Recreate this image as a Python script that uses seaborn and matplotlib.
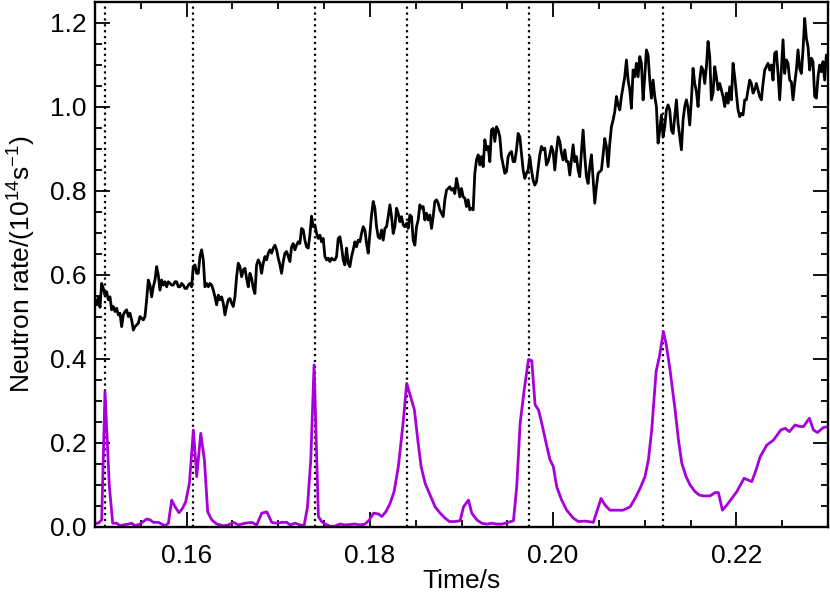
import numpy as np
import pandas as pd
import matplotlib
matplotlib.use('Agg')
import matplotlib.pyplot as plt
import seaborn as sns
from matplotlib.ticker import MultipleLocator, FormatStrFormatter

# total neutron rate (black), sampled on a uniform time grid from 0.150 s to 0.230 s
neutron_rate = [
    0.541, 0.529, 0.548, 0.523, 0.580, 0.568, 0.552, 0.560, 0.541, 0.548,
    0.517, 0.525, 0.513, 0.521, 0.505, 0.509, 0.477, 0.505, 0.513, 0.517,
    0.501, 0.509, 0.493, 0.469, 0.477, 0.481, 0.485, 0.501, 0.497, 0.493,
    0.501, 0.541, 0.588, 0.576, 0.548, 0.572, 0.588, 0.620, 0.600, 0.564,
    0.588, 0.576, 0.584, 0.572, 0.584, 0.580, 0.576, 0.576, 0.584, 0.584,
    0.572, 0.572, 0.580, 0.576, 0.568, 0.568, 0.576, 0.580, 0.572, 0.620,
    0.624, 0.604, 0.604, 0.644, 0.660, 0.636, 0.572, 0.580, 0.572, 0.580,
    0.576, 0.564, 0.548, 0.529, 0.552, 0.541, 0.548, 0.533, 0.505, 0.525,
    0.541, 0.544, 0.533, 0.525, 0.548, 0.596, 0.628, 0.620, 0.596, 0.612,
    0.616, 0.592, 0.572, 0.604, 0.592, 0.568, 0.556, 0.624, 0.636, 0.628,
    0.604, 0.628, 0.644, 0.636, 0.652, 0.660, 0.652, 0.664, 0.671, 0.660,
    0.640, 0.624, 0.604, 0.632, 0.652, 0.656, 0.644, 0.632, 0.667, 0.675,
    0.660, 0.671, 0.679, 0.675, 0.711, 0.707, 0.683, 0.667, 0.664, 0.695,
    0.740, 0.715, 0.719, 0.699, 0.687, 0.695, 0.679, 0.687, 0.644, 0.636,
    0.640, 0.632, 0.640, 0.636, 0.636, 0.644, 0.687, 0.691, 0.667, 0.636,
    0.624, 0.664, 0.628, 0.620, 0.644, 0.660, 0.679, 0.667, 0.683, 0.679,
    0.699, 0.715, 0.707, 0.675, 0.652, 0.699, 0.743, 0.775, 0.759, 0.715,
    0.691, 0.687, 0.707, 0.683, 0.711, 0.715, 0.739, 0.767, 0.739, 0.699,
    0.715, 0.759, 0.747, 0.727, 0.739, 0.719, 0.715, 0.723, 0.711, 0.743,
    0.739, 0.683, 0.671, 0.715, 0.731, 0.767, 0.759, 0.763, 0.731, 0.747,
    0.731, 0.743, 0.711, 0.739, 0.775, 0.779, 0.771, 0.755,
    0.747, 0.739, 0.779, 0.802, 0.806, 0.810, 0.802, 0.806, 0.794, 0.830,
    0.810, 0.786, 0.806, 0.786, 0.783, 0.763, 0.779, 0.755, 0.759, 0.755,
    0.842, 0.874, 0.886, 0.862, 0.882, 0.858, 0.922, 0.898, 0.906, 0.870,
    0.945, 0.949, 0.918, 0.953, 0.945, 0.929, 0.882, 0.862, 0.842, 0.846,
    0.882, 0.890, 0.894, 0.870, 0.870, 0.898, 0.937, 0.929, 0.890, 0.850,
    0.830, 0.842, 0.850, 0.882, 0.850, 0.826, 0.814, 0.822, 0.854, 0.886,
    0.906, 0.898, 0.902, 0.862, 0.870, 0.886, 0.906, 0.894, 0.850, 0.894,
    0.929, 0.918, 0.890, 0.874, 0.898, 0.870, 0.870, 0.838, 0.874, 0.910,
    0.870, 0.882, 0.850, 0.834, 0.894, 0.945, 0.882, 0.834, 0.818, 0.858,
    0.886, 0.830, 0.771, 0.810, 0.842, 0.846, 0.850, 0.886, 0.925, 0.906,
    0.858, 0.913, 0.953, 0.969, 0.989, 1.025, 1.005, 0.993,
    1.025, 1.048, 1.072, 1.112, 1.064, 1.041, 0.997, 1.088, 1.072, 1.104,
    1.072, 1.120, 1.104, 1.017, 1.072, 1.136, 1.124, 1.064, 1.021, 1.064,
    1.025, 1.001, 0.914, 0.945, 0.981, 0.929, 0.953, 0.993, 1.005, 0.993,
    0.945, 0.937, 0.977, 1.017, 0.961, 0.929, 0.898, 0.969, 1.001, 1.017,
    0.997, 0.957, 1.017, 1.092, 1.056, 1.037, 1.001, 1.064, 1.096, 1.088,
    1.056, 1.096, 1.156, 1.120, 1.017, 1.033, 1.096, 1.072, 1.041, 1.056,
    1.041, 1.025, 1.001, 1.033, 1.009, 1.048, 1.017, 1.104, 1.072, 1.033,
    0.993, 0.977, 0.985, 0.981, 1.017, 1.017, 1.041, 1.064, 1.056, 1.033,
    1.041, 1.056, 1.041, 1.025, 1.017, 1.056, 1.088, 1.096, 1.104, 1.088,
    1.100, 1.064, 1.128, 1.132, 1.080, 1.017, 1.088, 1.160, 1.080, 1.112,
    1.104, 1.064, 1.060, 1.017, 1.056, 1.088, 1.136, 1.092, 1.080, 1.136,
    1.211, 1.164, 1.144, 1.088, 1.116, 1.108, 1.025, 1.021, 1.072, 1.100,
    1.084, 1.108, 1.064, 1.124, 1.100,
]
t_start, t_end = 0.150, 0.230
time_black = np.linspace(t_start, t_end, len(neutron_rate))

# purple trace (burst signal)
time_purple = [
    0.15000, 0.15036, 0.15073, 0.15109, 0.15157, 0.15193, 0.15237, 0.15273, 0.15309, 0.15364,
    0.15400, 0.15437, 0.15491, 0.15528, 0.15564, 0.15601, 0.15637, 0.15692, 0.15728, 0.15764,
    0.15801, 0.15837, 0.15874, 0.15917, 0.15954, 0.15990, 0.16030, 0.16074, 0.16110, 0.16154,
    0.16194, 0.16230, 0.16274, 0.16329, 0.16401, 0.16456, 0.16511, 0.16565, 0.16638, 0.16711,
    0.16765, 0.16820, 0.16875, 0.16929, 0.16984, 0.17038, 0.17093, 0.17129, 0.17184, 0.17239,
    0.17282, 0.17319, 0.17355, 0.17391, 0.17438, 0.17474, 0.17511, 0.17565, 0.17620, 0.17674,
    0.17729, 0.17784, 0.17838, 0.17893, 0.17947, 0.17995, 0.18039, 0.18093, 0.18130, 0.18177,
    0.18220, 0.18264, 0.18311, 0.18366, 0.18402, 0.18439, 0.18486, 0.18523, 0.18559, 0.18603,
    0.18657, 0.18712, 0.18767, 0.18821, 0.18868, 0.18930, 0.18985, 0.19022, 0.19076, 0.19112,
    0.19167, 0.19221, 0.19276, 0.19330, 0.19385, 0.19440, 0.19494, 0.19567, 0.19603, 0.19640,
    0.19684, 0.19731, 0.19767, 0.19803, 0.19840, 0.19876, 0.19924, 0.19966, 0.20002, 0.20039,
    0.20093, 0.20148, 0.20221, 0.20275, 0.20348, 0.20385, 0.20439, 0.20523, 0.20567, 0.20621,
    0.20694, 0.20760, 0.20803, 0.20840, 0.20894, 0.20949, 0.21003, 0.21040, 0.21076, 0.21124,
    0.21160, 0.21204, 0.21233, 0.21276, 0.21331, 0.21368, 0.21404, 0.21451, 0.21495, 0.21550,
    0.21597, 0.21640, 0.21713, 0.21768, 0.21804, 0.21848, 0.21895, 0.21950, 0.22004, 0.22084,
    0.22168, 0.22215, 0.22259, 0.22332, 0.22405, 0.22485, 0.22532, 0.22579, 0.22641, 0.22677,
    0.22732, 0.22797, 0.22841, 0.22885, 0.22950, 0.23004,
]
burst_signal = [
    0.009, 0.009, 0.017, 0.322, 0.096, 0.009, 0.009, 0.003, 0.005, 0.007,
    0.009, 0.003, 0.007, 0.013, 0.019, 0.017, 0.011, 0.011, 0.007, 0.003,
    0.009, 0.064, 0.048, 0.034, 0.044, 0.060, 0.104, 0.231, 0.120, 0.223,
    0.160, 0.036, 0.017, 0.007, 0.003, 0.005, 0.011, 0.005, 0.009, 0.011,
    0.005, 0.033, 0.036, 0.011, 0.009, 0.011, 0.011, 0.005, 0.009, 0.005,
    0.003, 0.048, 0.160, 0.386, 0.025, 0.013, 0.007, 0.002, 0.002, 0.007,
    0.005, 0.006, 0.007, 0.005, 0.007, 0.017, 0.033, 0.031, 0.025, 0.037,
    0.056, 0.084, 0.144, 0.255, 0.342, 0.314, 0.279, 0.207, 0.144, 0.104,
    0.076, 0.048, 0.033, 0.021, 0.013, 0.013, 0.015, 0.048, 0.064, 0.033,
    0.017, 0.009, 0.007, 0.009, 0.007, 0.007, 0.010, 0.015, 0.096, 0.247,
    0.326, 0.399, 0.396, 0.291, 0.279, 0.247, 0.199, 0.160, 0.144, 0.096,
    0.064, 0.040, 0.021, 0.013, 0.014, 0.013, 0.011, 0.068, 0.052, 0.040,
    0.040, 0.040, 0.044, 0.048, 0.068, 0.092, 0.120, 0.160, 0.231, 0.370,
    0.406, 0.465, 0.437, 0.374, 0.279, 0.207, 0.152, 0.120, 0.100, 0.084,
    0.076, 0.074, 0.074, 0.082, 0.082, 0.040, 0.052, 0.068, 0.084, 0.116,
    0.108, 0.136, 0.167, 0.195, 0.207, 0.231, 0.235, 0.227, 0.243, 0.240,
    0.239, 0.259, 0.231, 0.225, 0.237, 0.239,
]

# times of the dotted markers
burst_times = [0.1511, 0.1607, 0.1740, 0.1840, 0.1974, 0.2120]

sns.set_style('ticks')
plt.rcParams['font.family'] = ['Liberation Sans', 'DejaVu Sans']
plt.rcParams['mathtext.fontset'] = 'custom'
plt.rcParams['mathtext.rm'] = 'Liberation Sans'
plt.rcParams['mathtext.it'] = 'Liberation Sans:italic'
plt.rcParams['text.color'] = 'black'
plt.rcParams['axes.labelcolor'] = 'black'

fig = plt.figure(figsize=(8.3, 5.93), dpi=100)
ax = fig.add_axes([95/830, 66/593, 733/830, 525/593])

for tb in burst_times:
    ax.axvline(tb, color='black', linestyle=':', linewidth=1.6, zorder=1)

black_df = pd.DataFrame({'time': time_black, 'rate': neutron_rate})
purple_df = pd.DataFrame({'time': time_purple, 'rate': burst_signal})
sns.lineplot(data=black_df, x='time', y='rate', color='black', linewidth=2.0, ax=ax, zorder=3)
sns.lineplot(data=purple_df, x='time', y='rate', color='#A800DA', linewidth=2.0, ax=ax, zorder=2)

ax.set_xlim(t_start, t_end)
ax.set_ylim(0, 1.25)
ax.xaxis.set_major_locator(MultipleLocator(0.02))
ax.xaxis.set_minor_locator(MultipleLocator(0.005))
ax.yaxis.set_major_locator(MultipleLocator(0.2))
ax.yaxis.set_minor_locator(MultipleLocator(0.05))
ax.xaxis.set_major_formatter(FormatStrFormatter('%.2f'))
ax.yaxis.set_major_formatter(FormatStrFormatter('%.1f'))

ax.tick_params(which='both', direction='in', top=True, right=True,
               color='black', labelcolor='black', width=1.3)
ax.tick_params(which='major', length=11)
ax.tick_params(which='minor', length=5)
ax.tick_params(axis='x', labelsize=19, pad=12)
ax.tick_params(axis='y', labelsize=19, pad=6)
for sp in ax.spines.values():
    sp.set_linewidth(1.7)
    sp.set_color('black')

ax.set_xlabel('Time/s', fontsize=19, labelpad=1)
ax.set_ylabel('Neutron rate/(10$^{14}$s$^{-1}$)', fontsize=19, labelpad=9)

# lift the bottom y label like the original
ax.yaxis.get_major_ticks()[0].label1.set_verticalalignment('bottom')

fig.savefig('out.png', dpi=100)
